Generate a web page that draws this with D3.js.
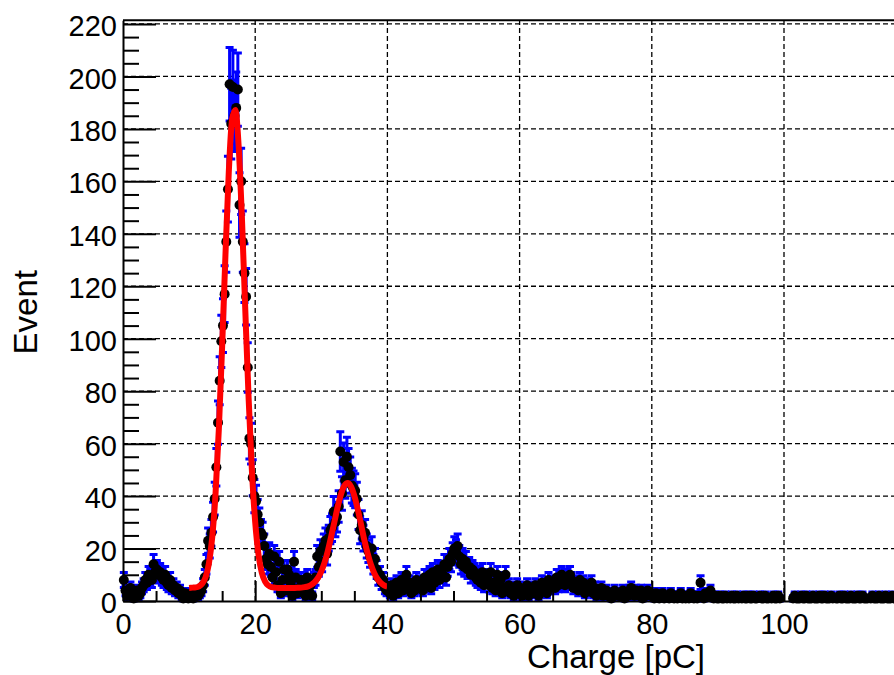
<!DOCTYPE html>
<html>
<head>
<meta charset="utf-8">
<script src="https://cdn.jsdelivr.net/npm/d3@7"></script>
<style>
  body { margin: 0; background: #fff; }
  svg { display: block; }
</style>
</head>
<body>
<svg id="chart" width="894" height="675"></svg>
<script>
// Charge spectrum: 0.25 pC bins starting at 0 pC, entries per bin
const binWidth = 0.25;
const binStart = 0;
const counts = [
  // 0 - 5
  8, 4, 2, 3, 5, 2, 1, 3, 4, 2, 3, 5, 6, 8, 7, 10, 9, 8, 14, 11,
  // 5 - 10
  12, 10, 11, 9, 8, 10, 7, 6, 8, 5, 6, 4, 5, 3, 4, 2, 1, 3, 2, 1,
  // 10 - 15
  2, 3, 1, 2, 3, 2, 3, 4, 6, 9, 14, 23, 21, 26, 32, 39, 51, 68, 84, 99,
  // 15 - 20
  105, 117, 137, 157, 197, 182, 196, 185, 188, 195, 151, 160, 137, 125, 116, 89, 62, 60, 47, 40,
  // 20 - 25
  38, 33, 30, 26, 25, 21, 16, 14, 18, 13, 9, 17, 11, 6, 15, 3, 8, 12, 4, 12,
  // 25 - 30
  10, 7, 2, 15, 9, 3, 5, 8, 4, 8, 2, 9, 4, 6, 2, 8, 9, 17, 13, 19,
  // 30 - 35
  15, 21, 23, 18, 24, 27, 28, 34, 30, 32, 36, 57, 41, 53, 46, 55, 51, 48, 44, 43,
  // 35 - 40
  42, 39, 33, 27, 29, 24, 26, 21, 19, 17, 20, 14, 16, 12, 9, 10, 7, 8, 5, 4,
  // 40 - 45
  5, 3, 6, 2, 4, 7, 3, 5, 8, 4, 6, 10, 5, 7, 3, 6, 4, 8, 5, 6,
  // 45 - 50
  7, 4, 9, 6, 8, 10, 5, 11, 7, 9, 12, 8, 11, 10, 14, 9, 13, 16, 15, 18,
  // 50 - 55
  20, 19, 21, 17, 14, 16, 13, 15, 12, 13, 10, 12, 11, 9, 8, 10, 7, 11, 6, 8,
  // 55 - 60
  9, 6, 11, 5, 7, 4, 10, 6, 8, 3, 5, 10, 4, 6, 3, 5, 2, 4, 6, 3,
  // 60 - 65
  5, 2, 4, 3, 6, 2, 4, 5, 3, 6, 4, 2, 5, 7, 4, 6, 3, 8, 5, 6,
  // 65 - 70
  7, 5, 9, 6, 8, 10, 7, 6, 9, 7, 10, 8, 5, 7, 6, 4, 8, 5, 7, 3,
  // 70 - 75
  6, 4, 5, 7, 3, 5, 2, 4, 3, 5, 2, 3, 4, 2, 3, 1, 2, 4, 3, 2,
  // 75 - 80
  3, 2, 4, 1, 3, 2, 4, 5, 3, 2, 4, 3, 2, 4, 1, 3, 2, 4, 3, 2,
  // 80 - 85
  2, 1, 3, 2, 1, 2, 3, 1, 2, 2, 1, 3, 2, 1, 2, 1, 2, 3, 1, 2,
  // 85 - 90
  1, 2, 1, 3, 2, 1, 2, 1, 2, 7, 2, 1, 3, 2, 2, 4, 2, 1, 2, 1,
  // 90 - 95
  1, 2, 1, 1, 2, 1, 0, 1, 2, 1, 1, 2, 1, 0, 1, 2, 1, 1, 2, 1,
  // 95 - 100
  1, 2, 1, 1, 0, 2, 1, 1, 2, 1, 1, 0, 1, 2, 1, 1, 2, 1, 0, 0,
  // 100 - 105
  0, 0, 0, 0, 0, 1, 2, 1, 1, 1, 2, 1, 1, 2, 1, 1, 1, 2, 1, 1,
  // 105 - 110
  1, 2, 1, 1, 2, 1, 1, 1, 2, 1, 0, 1, 1, 2, 1, 1, 2, 1, 1, 1,
  // 110 - 115
  2, 1, 1, 1, 2, 1, 1, 2, 1, 1, 1, 0, 1, 2, 1, 1, 1, 2, 1, 1,
  // 115 - 120
  1, 2, 1, 1, 1, 2, 1, 1, 1, 1, 2, 1, 1, 1, 2, 1, 1, 1, 1, 2,
  // 120 - 125
  1, 1, 2, 1, 1, 1, 2, 1, 1, 1, 1, 2, 1, 1, 1, 2, 1, 1, 1, 1
];

// Fitted curve (two peaks on a flat background), sampled over the fit range
const fitX = [
  10, 10.5, 11, 11.5, 12, 12.5, 13, 13.5, 14, 14.5, 15, 15.5, 16, 16.5, 17, 17.5, 18, 18.5, 19, 19.5,
  20, 20.5, 21, 21.5, 22, 22.5, 23, 23.5, 24, 24.5, 25, 25.5, 26, 26.5, 27, 27.5, 28, 28.5, 29, 29.5,
  30, 30.5, 31, 31.5, 32, 32.5, 33, 33.5, 34, 34.5, 35, 35.5, 36, 36.5, 37, 37.5, 38, 38.5, 39, 39.5, 40
];
const fitY = [
  5.0, 5.1, 5.2, 5.6, 6.7, 9.1, 14.4, 24.3, 40.9, 65.5, 97.2, 132, 163.3, 183.6, 187.2, 173.2, 145.4, 111, 77.5, 49.8,
  30.1, 17.7, 10.8, 7.4, 5.9, 5.3, 5.1, 5.0, 5.0, 5.0, 5.0, 5.0, 5.0, 5.05, 5.1, 5.3, 5.6, 6.2, 7.2, 8.8,
  11.3, 14.7, 19.2, 24.6, 30.4, 36.1, 40.9, 44.0, 45.0, 43.6, 40.1, 35.1, 29.3, 23.4, 18.2, 13.9, 10.7, 8.4, 6.9, 6.0, 5.5
];

// Axis ticks and labels
const xMajor = [0, 20, 40, 60, 80, 100, 120];
const xMinor = [5, 10, 15, 25, 30, 35, 45, 50, 55, 65, 70, 75, 85, 90, 95, 105, 110, 115, 125];
const yMajor = [0, 20, 40, 60, 80, 100, 120, 140, 160, 180, 200, 220];
const yMinor = [5, 10, 15, 25, 30, 35, 45, 50, 55, 65, 70, 75, 85, 90, 95, 105, 110, 115,
                125, 130, 135, 145, 150, 155, 165, 170, 175, 185, 190, 195, 205, 210, 215];
const xTitle = "Charge [pC]";
const yTitle = "Event";

const FONT = "'Liberation Sans', Arial, Helvetica, sans-serif";

const svg = d3.select("#chart");
const x = d3.scaleLinear().domain([0, 125]).range([123, 949.25]);
const y = d3.scaleLinear().domain([0, 221.4]).range([601, 20.3]);

// Grid
const grid = svg.append("g")
  .attr("stroke", "#000")
  .attr("stroke-width", 1.3)
  .attr("stroke-dasharray", "5,3");
grid.selectAll("line.gx").data(xMajor.filter(d => d > 0)).join("line")
  .attr("class", "gx")
  .attr("x1", d => x(d)).attr("x2", d => x(d))
  .attr("y1", y(0)).attr("y2", y(221.4));
grid.selectAll("line.gy").data(yMajor.filter(d => d > 0)).join("line")
  .attr("class", "gy")
  .attr("x1", x(0)).attr("x2", x(125))
  .attr("y1", d => y(d)).attr("y2", d => y(d));

// Histogram points with Poisson error bars (empty bins are skipped)
const bins = counts
  .map((n, i) => ({ c: binStart + (i + 0.5) * binWidth, n: n }))
  .filter(d => d.n > 0);

const cap = 4;
svg.append("g")
  .attr("fill", "none")
  .attr("stroke", "#0000ff")
  .attr("stroke-width", 3)
  .selectAll("path").data(bins).join("path")
  .attr("d", d => {
    const e = Math.sqrt(d.n);
    const cx = x(d.c), yt = y(d.n + e), yb = y(d.n - e);
    return `M${cx},${yt}V${yb}M${cx - cap},${yt}H${cx + cap}M${cx - cap},${yb}H${cx + cap}`;
  });

svg.append("g")
  .attr("fill", "#000")
  .selectAll("circle").data(bins).join("circle")
  .attr("cx", d => x(d.c))
  .attr("cy", d => y(d.n))
  .attr("r", 5);

// Fit curve
const fitPts = fitX.map((v, i) => [v, fitY[i]]);
svg.append("path")
  .datum(fitPts)
  .attr("fill", "none")
  .attr("stroke", "#ff0000")
  .attr("stroke-width", 6)
  .attr("stroke-linejoin", "round")
  .attr("d", d3.line().x(d => x(d[0])).y(d => y(d[1])).curve(d3.curveMonotoneX));

// Frame top edge
svg.append("line")
  .attr("x1", x(0)).attr("x2", x(125))
  .attr("y1", y(221.4)).attr("y2", y(221.4))
  .attr("stroke", "#000").attr("stroke-width", 2);

// Axes
function styleAxis(g) {
  g.selectAll("path.domain").attr("stroke", "#000").attr("stroke-width", 2);
  g.selectAll(".tick line").attr("stroke", "#000").attr("stroke-width", 2);
  g.selectAll(".tick text").attr("fill", "#000").attr("font-family", FONT).attr("font-size", 29);
}

svg.append("g").attr("transform", `translate(0,${y(0)})`)
  .call(d3.axisBottom(x).tickValues(xMajor).tickSize(-20).tickSizeOuter(0).tickPadding(12).tickFormat(d3.format("d")))
  .call(styleAxis);
svg.append("g").attr("transform", `translate(0,${y(0)})`)
  .call(d3.axisBottom(x).tickValues(xMinor).tickSize(-10).tickSizeOuter(0).tickFormat(""))
  .call(g => g.select("path.domain").remove())
  .call(styleAxis);

const gy = svg.append("g").attr("transform", `translate(${x(0)},0)`)
  .call(d3.axisLeft(y).tickValues(yMajor).tickSize(-33).tickSizeOuter(0).tickPadding(6).tickFormat(d3.format("d")))
  .call(styleAxis);
gy.selectAll(".tick text").attr("dy", "0.4em");
svg.append("g").attr("transform", `translate(${x(0)},0)`)
  .call(d3.axisLeft(y).tickValues(yMinor).tickSize(-16).tickSizeOuter(0).tickFormat(""))
  .call(g => g.select("path.domain").remove())
  .call(styleAxis);

// Axis titles
svg.append("text")
  .attr("x", 705).attr("y", 668)
  .attr("text-anchor", "end")
  .attr("font-family", FONT).attr("font-size", 33)
  .attr("fill", "#000")
  .text(xTitle);

svg.append("text")
  .attr("transform", "translate(37,270) rotate(-90)")
  .attr("text-anchor", "end")
  .attr("font-family", FONT).attr("font-size", 33)
  .attr("fill", "#000")
  .text(yTitle);
</script>
</body>
</html>
